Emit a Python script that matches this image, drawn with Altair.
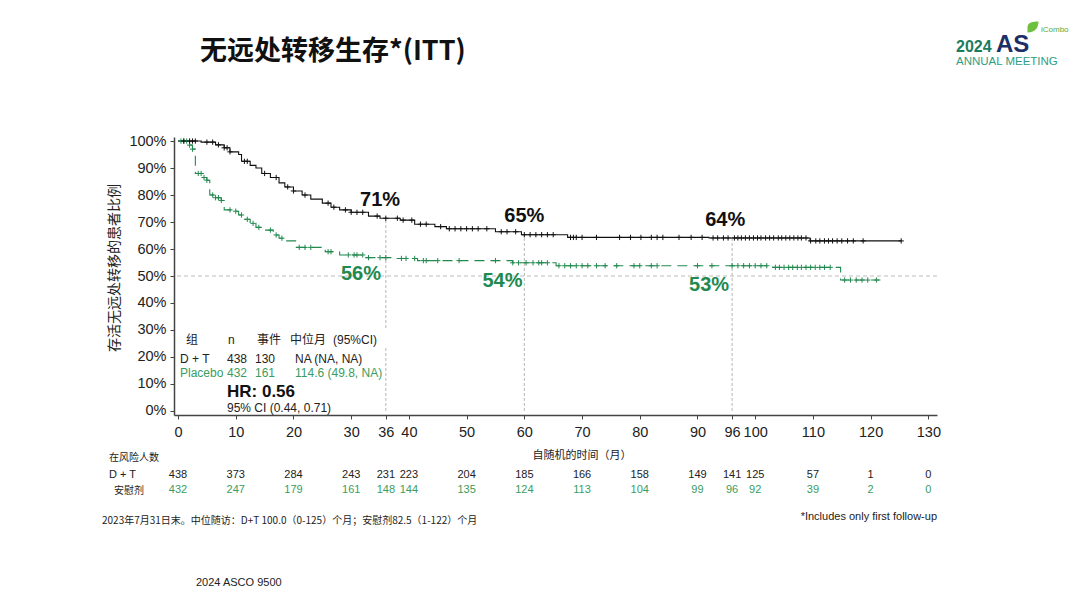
import altair as alt
import pandas as pd

# ---------------- data ----------------
# Kaplan-Meier step curves (time in months, survival in %)
dt_time = [0, 4, 6.5, 8, 9, 10.5, 11, 12.5, 13.5, 14.5, 16, 17.5, 18.5, 20, 21.5, 23, 25,
           26.5, 28, 30, 33, 35, 38.5, 41, 44.5, 46.5, 55, 59.5, 67.5, 92, 109.5, 125.3]
dt_surv = [100, 99.6, 98.6, 97.5, 96, 95, 92.5, 91, 90, 88, 86.5, 84.5, 83, 81.5, 80, 78.5, 77,
           75.5, 74.5, 73.6, 72.2, 71.4, 70.7, 69.2, 68.3, 67.5, 66.4, 65.3, 64.3, 64.1, 63, 63]
pl_time = [0, 1.8, 2.5, 3, 4.5, 5, 5.5, 6.5, 7.5, 8, 9.5, 10.5, 11.5, 12.5, 13.5, 15, 16.5,
           17.5, 18.5, 20.5, 25.5, 28, 32.5, 37.5, 41.5, 58, 65.5, 103, 114.8, 121.7]
pl_surv = [100, 98.5, 97, 88, 86.5, 85.5, 80, 79, 78, 74.5, 74, 72.6, 71, 69.5, 68, 67, 65.2,
           64, 63, 60.6, 59, 57.8, 56.8, 56.5, 55.7, 54.9, 53.8, 53.2, 48.5, 48.5]

# censoring times
dt_cens = [1, 2, 2.5, 3, 5, 6, 7, 8, 8.5, 9, 11.5, 12, 15, 17, 19, 20, 22, 26, 27, 29, 30, 31, 32,
           34.5, 36, 38, 39, 40.5, 42, 43, 45.5, 47, 48, 49, 50, 51, 52, 53.5, 56, 57, 58.5, 60,
           61, 62, 63, 64, 65, 68, 68.5, 69, 70, 72.5, 76.5, 78.4, 80.2, 82, 83, 84, 86.8, 88.9,
           90.8, 92.7, 93.5, 94.5, 95.3, 96.4, 97, 97.6, 98.3, 99, 99.7, 100.4, 101, 101.8, 102.5,
           103.2, 104, 104.6, 105.3, 106, 106.7, 107.4, 108, 108.8, 109.6, 110.5, 111.2, 112,
           112.7, 113.4, 114.2, 115, 116, 117, 118.7, 125.3]
pl_cens = [0.5, 1, 1.5, 2, 2.5, 3.5, 4, 4.5, 5, 6, 6.5, 7, 7.5, 9, 10, 11, 12, 13, 14, 16, 17, 18,
           21, 22, 23, 26, 26.5, 29.5, 30.5, 31, 32, 33, 35, 36, 38.7, 39.5, 41, 42.5, 43, 45,
           48.7, 55, 58, 59, 60.3, 61.5, 62.5, 63, 64, 66, 67, 68, 69, 70, 71, 72.5, 74, 76, 79,
           80, 82, 83, 90, 92.5, 96, 97, 98, 99, 100, 101, 102, 103.5, 104.2, 105, 105.8, 106.5,
           107.3, 108, 108.8, 109.6, 110.4, 111.2, 112, 113, 115.5, 116.5, 117.5, 118.5, 119.5,
           121]

# landmark rates
lm_time = [36, 60, 96]
dt_lm = ["71%", "65%", "64%"]
pl_lm = ["56%", "54%", "53%"]

# numbers at risk
risk_times = [0, 10, 20, 30, 36, 40, 50, 60, 70, 80, 90, 96, 100, 110, 120, 130]
dt_risk = [438, 373, 284, 243, 231, 223, 204, 185, 166, 158, 149, 141, 125, 57, 1, 0]
pl_risk = [432, 247, 179, 161, 148, 144, 135, 124, 113, 104, 99, 96, 92, 39, 2, 0]

y_ticks = [0, 10, 20, 30, 40, 50, 60, 70, 80, 90, 100]

# ---------------- styling ----------------
FONT = "Liberation Sans, Arial, Noto Sans CJK SC, sans-serif"
CJK = "Noto Sans CJK SC, Liberation Sans, sans-serif"
GREEN = "#22894f"
GREEN2 = "#3a9c60"
XDOM = [-0.7, 131.5]
YDOM = [-1.5, 101.5]
W, H = 763, 278
PX0, PY0 = 174, 137  # page position of plot origin


def surv_at(times, survs, t):
    s = survs[0]
    for ti, si in zip(times, survs):
        if ti <= t:
            s = si
    return s


xs = alt.Scale(domain=XDOM, nice=False, zero=False)
ys = alt.Scale(domain=YDOM, nice=False, zero=False)

xaxis = alt.Axis(values=risk_times, title=None, tickSize=4, labelFontSize=14.5, labelFont=FONT,
                 labelPadding=6, domainColor="#444", domainWidth=1.5, tickColor="#444",
                 labelColor="#222", grid=False, labelOverlap=False, labelFlush=False,
                 labelBound=False)
yaxis = alt.Axis(values=y_ticks, title=None, tickSize=4, labelFontSize=14.5, labelFont=FONT,
                 labelPadding=4, domainColor="#444", domainWidth=1.5, tickColor="#444",
                 labelColor="#222", grid=False, labelOverlap=False, labelFlush=False,
                 labelBound=False, labelExpr="datum.value + '%'")


def X(f):
    return alt.X(f, scale=xs, axis=xaxis)


def Y(f):
    return alt.Y(f, scale=ys, axis=yaxis)


curve_df = pd.concat([
    pd.DataFrame({"t": dt_time, "s": dt_surv, "arm": "D + T"}),
    pd.DataFrame({"t": pl_time, "s": pl_surv, "arm": "Placebo"}),
])
cens_dt = pd.DataFrame({"t": dt_cens, "s": [surv_at(dt_time, dt_surv, c) for c in dt_cens]})
cens_pl = pd.DataFrame({"t": pl_cens, "s": [surv_at(pl_time, pl_surv, c) for c in pl_cens]})

# reference lines
ref50 = alt.Chart(pd.DataFrame({"y": [50]})).mark_rule(
    color="#bdbdbd", strokeDash=[4, 3], strokeWidth=1).encode(y=Y("y:Q"))

vrules = pd.DataFrame({
    "t": [36, 36, 60, 96],
    "y0": [0, 30.7, 0, 0],
    "y1": [23.3, surv_at(dt_time, dt_surv, 36), surv_at(dt_time, dt_surv, 60),
           surv_at(dt_time, dt_surv, 96)],
})
vr = alt.Chart(vrules).mark_rule(color="#b5b5b5", strokeDash=[3, 2], strokeWidth=1).encode(
    x=X("t:Q"), y=Y("y0:Q"), y2="y1:Q")

line_dt = alt.Chart(curve_df[curve_df.arm == "D + T"]).mark_line(
    interpolate="step-after", color="#111", strokeWidth=1.1).encode(x=X("t:Q"), y=Y("s:Q"))
line_pl = alt.Chart(curve_df[curve_df.arm == "Placebo"]).mark_line(
    interpolate="step-after", color=GREEN, strokeWidth=1.1, strokeDash=[10, 6]).encode(
    x=X("t:Q"), y=Y("s:Q"))

PLUS = "M-1,0L1,0M0,-1L0,1"
c_dt = alt.Chart(cens_dt).mark_point(shape=PLUS, filled=False, size=28, color="#111",
                                     strokeWidth=1, opacity=1).encode(x=X("t:Q"), y=Y("s:Q"))
c_pl = alt.Chart(cens_pl).mark_point(shape=PLUS, filled=False, size=28, color=GREEN,
                                     strokeWidth=1, opacity=1).encode(x=X("t:Q"), y=Y("s:Q"))

# landmark labels (placed in data coordinates)
lab_dt = pd.DataFrame({"t": [35.0, 60.0, 94.8], "y": [78.1, 72.2, 70.7], "txt": dt_lm})
lab_pl = pd.DataFrame({"t": [31.7, 56.2, 92.0], "y": [50.7, 48.1, 46.7], "txt": pl_lm})
t_dt = alt.Chart(lab_dt).mark_text(font=FONT, fontSize=20, fontWeight="bold", color="#111",
                                   baseline="middle").encode(
    x=X("t:Q"), y=Y("y:Q"), text="txt:N")
t_pl = alt.Chart(lab_pl).mark_text(font=FONT, fontSize=20, fontWeight="bold", color=GREEN,
                                   baseline="middle").encode(
    x=X("t:Q"), y=Y("y:Q"), text="txt:N")

# numbers at risk (x on the time scale, below the axis)
risk_dt = alt.Chart(pd.DataFrame({"t": risk_times, "n": dt_risk})).mark_text(
    font=FONT, fontSize=11, color="#222", baseline="middle").encode(
    x=X("t:Q"), y=alt.value(475 - PY0), text="n:Q")
risk_pl = alt.Chart(pd.DataFrame({"t": risk_times, "n": pl_risk})).mark_text(
    font=FONT, fontSize=11, color=GREEN2, baseline="middle").encode(
    x=X("t:Q"), y=alt.value(490 - PY0), text="n:Q")


def txt(s, px, py, size=12, color="#222", weight="normal", align="left", font=FONT, angle=0,
        baseline="middle"):
    return alt.Chart(pd.DataFrame({"s": [s]})).mark_text(
        font=font, fontSize=size, color=color, fontWeight=weight, align=align,
        baseline=baseline, angle=angle).encode(
        x=alt.value(px - PX0), y=alt.value(py - PY0), text="s:N")


texts = [
    txt("无远处转移生存*(ITT)", 200, 52, size=27, color="#111", weight="bold", font=CJK),
    txt("2024", 956, 52, size=16, color="#1c7c5e", weight="bold", baseline="alphabetic"),
    txt("AS", 996, 52, size=24, color="#1d2f66", weight="bold", baseline="alphabetic"),
    txt("ANNUAL MEETING", 956, 65, size=11.5, color="#2f9d83", baseline="alphabetic"),
    txt("iCombo", 1041, 32, size=8, color="#5aab3a", baseline="alphabetic"),
    txt("存活无远处转移的患者比例", 115, 268, size=14, color="#222", align="center",
        font=CJK, angle=270),
    # in-plot legend table
    txt("组", 186, 340, size=12, font=CJK),
    txt("n", 228, 340, size=12),
    txt("事件", 257, 340, size=12, font=CJK),
    txt("中位月", 290, 340, size=12, font=CJK),
    txt("(95%CI)", 333, 340, size=12),
    txt("D + T", 180, 359, size=12),
    txt("438", 227, 359, size=12),
    txt("130", 255, 359, size=12),
    txt("NA (NA, NA)", 295, 359, size=12),
    txt("Placebo", 180, 373, size=12, color=GREEN2),
    txt("432", 227, 373, size=12, color=GREEN2),
    txt("161", 255, 373, size=12, color=GREEN2),
    txt("114.6 (49.8, NA)", 295, 373, size=12, color=GREEN2),
    txt("HR: 0.56", 227, 392, size=17, color="#111", weight="bold"),
    txt("95% CI (0.44, 0.71)", 227, 408, size=12),
    # axis title and risk table labels
    txt("自随机的时间（月）", 582, 456, size=11, align="center", font=CJK),
    txt("在风险人数", 109, 458, size=10, font=CJK),
    txt("D + T", 109, 475, size=11),
    txt("安慰剂", 114, 491, size=10, font=CJK),
    # footnotes
    txt("2023年7月31日末。中位随访：D+T 100.0（0-125）个月；安慰剂82.5（1-122）个月",
        102, 521, size=10, font=CJK),
    txt("*Includes only first follow-up", 937, 517, size=11, align="right"),
    txt("2024 ASCO 9500", 196, 583, size=11),
]

leaf = alt.Chart(pd.DataFrame({"a": [1]})).mark_point(
    shape="M-1,1L-1,0C-1,-0.8 0,-1 1,-1C1,0 0.5,1 -1,1Z", filled=True, size=120,
    color="#6cbf3f", opacity=1).encode(x=alt.value(1033 - PX0), y=alt.value(27 - PY0))

chart = alt.layer(ref50, vr, line_pl, line_dt, c_pl, c_dt, t_dt, t_pl, risk_dt,
                  risk_pl, *texts, leaf).properties(
    width=W, height=H,
    background="white",
    padding={"left": PX0 - 8, "top": PY0 - 8, "right": 1064 - (PX0 - 8) - W,
             "bottom": 592 - (PY0 - 8) - H},
    autosize=alt.AutoSizeParams(type="none"),
).configure_view(strokeWidth=0, strokeOpacity=0, stroke="transparent")

chart.save("out.html", embed_options={"renderer": "svg", "actions": False})
